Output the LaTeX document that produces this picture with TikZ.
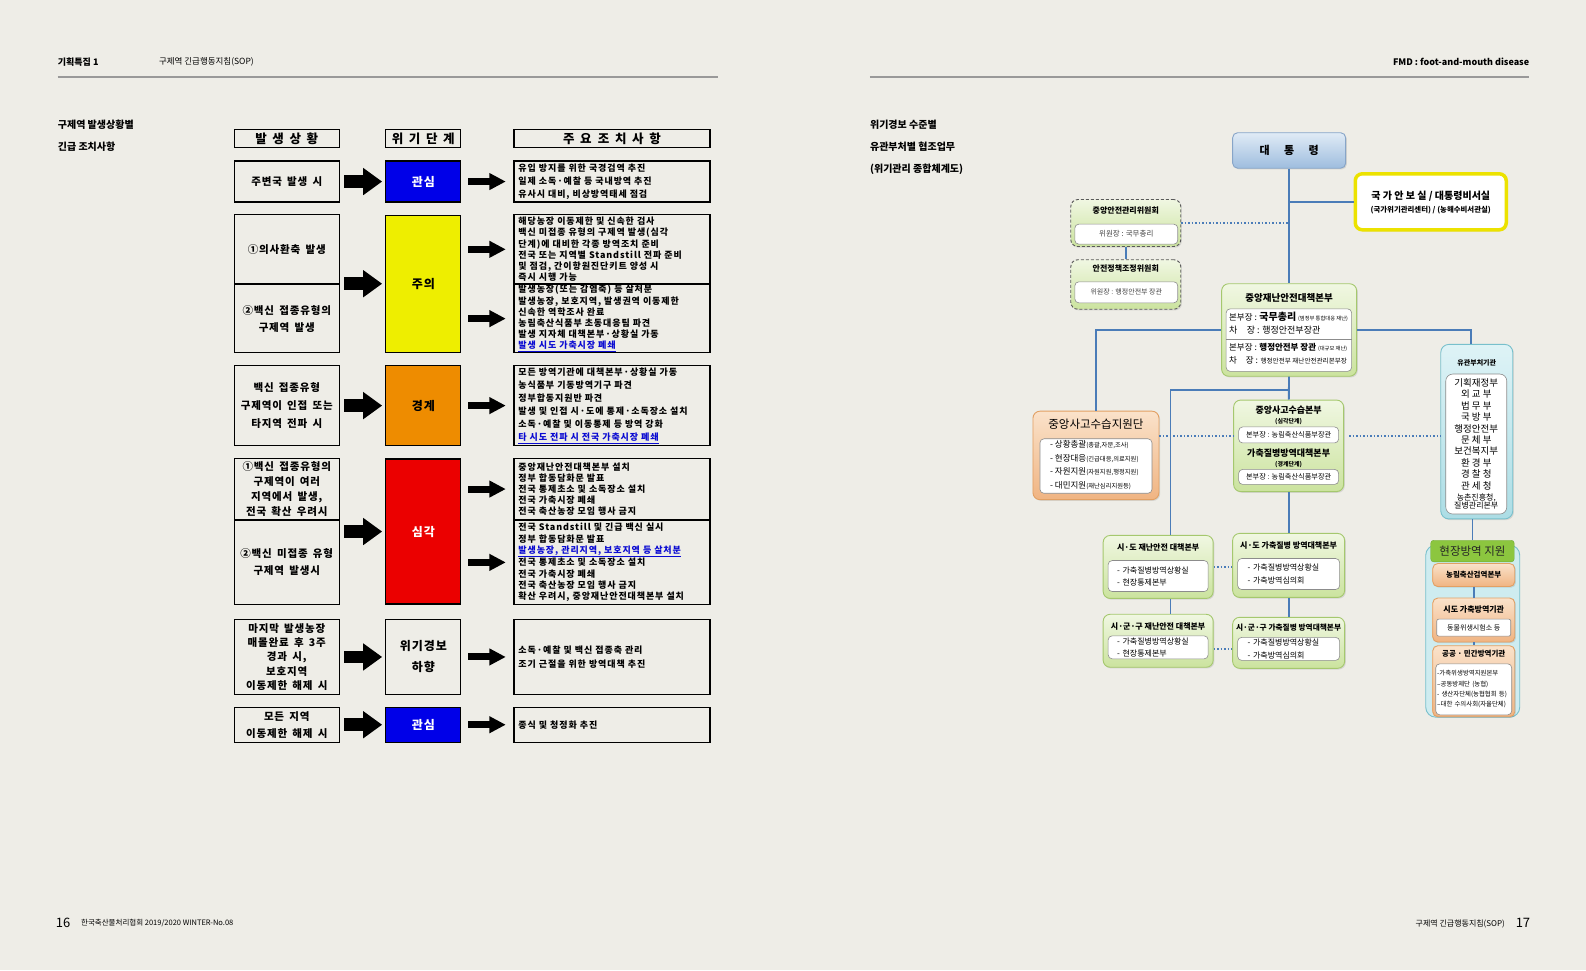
\documentclass[tikz,border=0pt]{standalone}
\usepackage{fontspec}
\setmainfont{Noto Sans CJK KR}
\newfontfamily\tblfont[LetterSpace=8,WordSpace=1.6]{Noto Sans CJK KR}
\newfontfamily\actfont[LetterSpace=10,WordSpace=2.5]{Noto Sans CJK KR}
\newfontfamily\headfont[LetterSpace=45]{Noto Sans CJK KR}
\usetikzlibrary{arrows.meta,shadows}

\definecolor{paper}{RGB}{238,237,231}
\definecolor{kblue}{RGB}{0,0,232}
\definecolor{kyellow}{RGB}{238,238,0}
\definecolor{korange}{RGB}{238,140,0}
\definecolor{kred}{RGB}{235,0,0}
\definecolor{klink}{RGB}{10,10,210}
\definecolor{lineblue}{RGB}{74,124,184}
\definecolor{gborder}{RGB}{165,200,110}
\definecolor{gtop}{RGB}{240,247,226}
\definecolor{gbot}{RGB}{203,227,158}
\definecolor{ptop}{RGB}{250,226,202}
\definecolor{pbot}{RGB}{240,180,130}
\definecolor{pborder}{RGB}{226,160,100}
\definecolor{ctop}{RGB}{222,243,246}
\definecolor{cbot}{RGB}{172,221,229}
\definecolor{cborder}{RGB}{120,192,204}

\newcommand{\fsz}[2]{\fontsize{#1}{#2}\selectfont}
\newcommand{\lnk}[1]{\textcolor{klink}{\underline{#1}}}

\begin{document}
\begin{tikzpicture}[x=1.0115pt,y=-1.0115pt,
  cell/.style={draw,line width=1.3pt,inner sep=0pt},
  lcell/.style={cell,minimum width=105pt,align=center,font=\tblfont\bfseries\fsz{10.5}{15}},
  scell/.style={cell,minimum width=75pt,align=center,text=white,font=\tblfont\bfseries\fsz{12}{21}},
  rcell/.style={cell,text width=187pt,inner xsep=4.5pt,align=left,font=\actfont\bfseries\fsz{9}{11.2}},
  hcell/.style={cell,minimum height=18pt,font=\headfont\bfseries\fsz{12.5}{14}},
  bigarrow/.style={-{Triangle[length=19pt,width=26pt]},line width=12.5pt,shorten <=4.5pt,shorten >=3pt},
  smallarrow/.style={-{Triangle[length=16.5pt,width=16pt]},line width=7pt,shorten <=7pt,shorten >=7.5pt},
  title/.style={anchor=west,inner sep=0pt,font=\bfseries\fsz{10}{12}},
  gbox/.style={draw=gborder,line width=0.9pt,rounded corners=7pt,top color=gtop,bottom color=gbot,
    drop shadow={opacity=0.22,shadow xshift=1.2pt,shadow yshift=-1.2pt}},
  dbox/.style={gbox,draw=black!65,densely dashed},
  pbox/.style={draw=pborder,line width=0.9pt,rounded corners=7pt,top color=ptop,bottom color=pbot,
    drop shadow={opacity=0.22,shadow xshift=1.2pt,shadow yshift=-1.2pt}},
  wbox/.style={draw=black!45,line width=0.6pt,rounded corners=4pt,fill=white,inner sep=0pt},
  ttl/.style={inner sep=0pt,font=\bfseries\fsz{8}{10}},
  txt/.style={inner sep=0pt,font=\fsz{8.5}{10}},
  cline/.style={draw=lineblue,line width=1.8pt},
  dline/.style={draw=lineblue,line width=1.5pt,dotted}]

  % page
  \path[use as bounding box,fill=paper] (0,0) rectangle (1568,959);
  \draw[gray!80,line width=2pt] (57,76) -- (710,76);
  \draw[gray!80,line width=2pt] (860,76) -- (1512,76);
  \node[title,font=\bfseries\fsz{9}{10}] (pg1) at (57,61) {기획특집 1};
  \node[title,font=\fsz{8.5}{10}] (pg2) at (157,61) {구제역 긴급행동지침(SOP)};
  \node[title,anchor=east,font=\bfseries\fsz{9}{10}] (pg3) at (1512,61) {FMD : foot-and-mouth disease};
  \node[title] (t1) at (57,123) {구제역 발생상황별};
  \node[title] (t2) at (57,145) {긴급 조치사항};
  \node[title] (t3) at (860,123) {위기경보 수준별};
  \node[title] (t4) at (860,145) {유관부처별 협조업무};
  \node[title] (t5) at (860,167) {(위기관리 종합체계도)};
  \node[title,font=\fsz{13}{14}] (f1) at (55,912) {16};
  \node[title,font=\fsz{7.5}{9}] (f2) at (80,913) {한국축산물처리협회 2019/2020 WINTER-No.08};
  \node[title,anchor=east,font=\fsz{13}{14}] (f4) at (1513,912) {17};
  \node[title,anchor=east,font=\fsz{8}{9}] (f3) at (1488,913) {구제역 긴급행동지침(SOP)};

  % table
  \node[hcell,minimum width=105pt] (h1) at (283.5,137) {발생상황};
  \node[hcell,minimum width=75pt] (h2) at (418.5,137) {위기단계};
  \node[hcell,minimum width=196pt] (h3) at (605,137) {주요\hspace{0.5em}조치사항};

  \node[lcell,minimum height=41pt] (l1) at (283.5,179.5) {주변국 발생 시};
  \node[scell,fill=kblue,minimum height=41pt] (s1) at (418.5,179.5) {관심};
  \node[rcell,minimum height=41pt,font=\actfont\bfseries\fsz{9}{13}] (r1) at (605,179.5)
    {유입 방지를 위한 국경검역 추진\\일제 소독·예찰 등 국내방역 추진\\유사시 대비, 비상방역태세 점검};

  \node[lcell,minimum height=69pt] (l2a) at (283.5,246.5) {①의사환축 발생};
  \node[lcell,minimum height=68pt,font=\tblfont\bfseries\fsz{10.5}{17}] (l2b) at (283.5,315) {②백신 접종유형의\\구제역 발생};
  \node[scell,fill=kyellow,text=black,minimum height=137pt] (s2) at (418.5,280.5) {주의};
  \node[rcell,minimum height=69pt] (r2a) at (605,246.5)
    {해당농장 이동제한 및 신속한 검사\\백신 미접종 유형의 구제역 발생(심각\\단계)에 대비한 각종 방역조치 준비\\전국 또는 지역별 Standstill 전파 준비\\및 점검, 간이항원진단키트 양성 시\\즉시 시행 가능};
  \node[rcell,minimum height=68pt] (r2b) at (605,315)
    {발생농장(또는 감염축) 등 살처분\\발생농장, 보호지역, 발생권역 이동제한\\신속한 역학조사 완료\\농림축산식품부 초동대응팀 파견\\발생 지자체 대책본부·상황실 가동\\\lnk{발생 시도 가축시장 폐쇄}};

  \node[lcell,minimum height=80pt,font=\tblfont\bfseries\fsz{10.5}{18}] (l3) at (283.5,401) {백신 접종유형\\구제역이 인접 또는\\타지역 전파 시};
  \node[scell,fill=korange,text=black,minimum height=80pt] (s3) at (418.5,401) {경계};
  \node[rcell,minimum height=80pt,font=\actfont\bfseries\fsz{9}{13}] (r3) at (605,401)
    {모든 방역기관에 대책본부·상황실 가동\\농식품부 기동방역기구 파견\\정부합동지원반 파견\\발생 및 인접 시·도에 통제·소독장소 설치\\소독·예찰 및 이동통제 등 방역 강화\\\lnk{타 시도 전파 시 전국 가축시장 폐쇄}};

  \node[lcell,minimum height=61pt] (l4a) at (283.5,483.5) {①백신 접종유형의\\구제역이 여러\\지역에서 발생,\\전국 확산 우려시};
  \node[lcell,minimum height=84pt,font=\tblfont\bfseries\fsz{10.5}{17}] (l4b) at (283.5,556) {②백신 미접종 유형\\구제역 발생시};
  \node[scell,fill=kred,minimum height=145pt] (s4) at (418.5,525.5) {심각};
  \node[rcell,minimum height=61pt] (r4a) at (605,483.5)
    {중앙재난안전대책본부 설치\\정부 합동담화문 발표\\전국 통제초소 및 소독장소 설치\\전국 가축시장 폐쇄\\전국 축산농장 모임 행사 금지};
  \node[rcell,minimum height=84pt] (r4b) at (605,556)
    {전국 Standstill 및 긴급 백신 실시\\정부 합동담화문 발표\\\lnk{발생농장, 관리지역, 보호지역 등 살처분}\\전국 통제초소 및 소독장소 설치\\전국 가축시장 폐쇄\\전국 축산농장 모임 행사 금지\\확산 우려시, 중앙재난안전대책본부 설치};

  \node[lcell,minimum height=75pt,font=\tblfont\bfseries\fsz{10.5}{14.3}] (l5) at (283.5,649.5) {마지막 발생농장\\매몰완료 후 3주\\경과 시,\\보호지역\\이동제한 해제 시};
  \node[scell,text=black,minimum height=75pt] (s5) at (418.5,649.5) {위기경보\\하향};
  \node[rcell,minimum height=75pt,font=\actfont\bfseries\fsz{9}{14}] (r5) at (605,649.5)
    {소독·예찰 및 백신 접종축 관리\\조기 근절을 위한 방역대책 추진};

  \node[lcell,minimum height=35pt,font=\tblfont\bfseries\fsz{10.5}{17}] (l6) at (283.5,716.5) {모든 지역\\이동제한 해제 시};
  \node[scell,fill=kblue,minimum height=35pt] (s6) at (418.5,716.5) {관심};
  \node[rcell,minimum height=35pt] (r6) at (605,716.5) {종식 및 청정화 추진};

  \draw[bigarrow] (l1) -- (s1);
  \draw[bigarrow] (s2.west -| l2a.east) -- (s2.west);
  \draw[bigarrow] (l3) -- (s3);
  \draw[bigarrow] (s4.west -| l4a.east) -- (s4.west);
  \draw[bigarrow] (l5) -- (s5);
  \draw[bigarrow] (l6) -- (s6);
  \draw[smallarrow] (s1) -- (r1);
  \draw[smallarrow] (r2a.west -| s2.east) -- (r2a.west);
  \draw[smallarrow] (r2b.west -| s2.east) -- (r2b.west);
  \draw[smallarrow] (s3) -- (r3);
  \draw[smallarrow] (r4a.west -| s4.east) -- (r4a.west);
  \draw[smallarrow] (r4b.west -| s4.east) -- (r4b.west);
  \draw[smallarrow] (s5) -- (r5);
  \draw[smallarrow] (s6) -- (r6);

  % chart
  \node[draw={rgb,255:red,135;green,165;blue,200},line width=0.9pt,rounded corners=5pt,
    top color={rgb,255:red,224;green,235;blue,246},bottom color={rgb,255:red,158;green,189;blue,222},
    drop shadow={opacity=0.22,shadow xshift=1.2pt,shadow yshift=-1.2pt},
    minimum width=113pt,minimum height=35.5pt,font=\bfseries\fsz{11}{12}] (pres) at (1274.5,148.75)
    {대\hspace{1.3em}통\hspace{1.3em}령};
  \node[draw={rgb,255:red,236;green,226;blue,0},line width=3.5pt,rounded corners=7pt,fill=white,
    drop shadow={opacity=0.25,shadow xshift=1pt,shadow yshift=-1.5pt},
    minimum width=151pt,minimum height=56pt] (nsc) at (1414.5,199.5) {};
  \node[ttl,font=\bfseries\fsz{10}{12}] (nsct) at (1414.5,194) {국 가 안 보 실 / 대통령비서실};
  \node[ttl,font=\bfseries\fsz{7.4}{8}] (nscs) at (1414.5,208) {(국가위기관리센터) / (농해수비서관실)};

  \node[dbox,minimum width=110pt,minimum height=47pt] (cscm) at (1113,220.5) {};
  \node[ttl] (cscmt) at (1113,208) {중앙안전관리위원회};
  \node[wbox,minimum width=103pt,minimum height=20pt,font=\fsz{7.5}{9},text=black!75] (cscmi) at (1113.5,231.5) {위원장 : 국무총리};
  \node[dbox,minimum width=110pt,minimum height=49.5pt] (spcc) at (1113,281.25) {};
  \node[ttl] (spcct) at (1113,265) {안전정책조정위원회};
  \node[wbox,minimum width=103pt,minimum height=21pt,font=\fsz{7}{9},text=black!75] (spcci) at (1113.5,289) {위원장 : 행정안전부 장관};

  \node[gbox,minimum width=135pt,minimum height=92.5pt] (cdsc) at (1274.5,326.25) {};
  \node[ttl,font=\bfseries\fsz{9.5}{11}] (cdsct) at (1274.5,295) {중앙재난안전대책본부};
  \node[wbox,minimum width=125.5pt,minimum height=62.5pt] (cdsci) at (1274.25,336.25) {};
  \coordinate (cdv) at (1274,335.6);
  \draw[black!45,line width=0.6pt] (cdsci.west |- cdv) -- (cdsci.east |- cdv);
  \node[txt,anchor=west] (cd1) at (1215,313) {본부장 : {\bfseries\fsz{10}{11}국무총리} {\fsz{5.3}{6}(범정부 통합대응 재난)}};
  \node[txt,anchor=west,font=\fsz{9}{10}] (cd2) at (1215,326.4) {차\hspace{1.05em}장 : 행정안전부장관};
  \node[txt,anchor=west] (cd3) at (1215,343.5) {본부장 : {\bfseries 행정안전부 장관} {\fsz{5.3}{6}(대규모 재난)}};
  \node[txt,anchor=west] (cd4) at (1215,356) {차\hspace{1.05em}장 : {\fsz{6.6}{7}행정안전부 재난안전관리본부장}};

  \node[pbox,minimum width=126pt,minimum height=88.5pt] (csrs) at (1083.5,450.25) {};
  \node[ttl,font=\fsz{11.5}{13}] (csrst) at (1083.5,419.5) {중앙사고수습지원단};
  \node[wbox,minimum width=112pt,minimum height=54.5pt] (csrsi) at (1083.5,460.75) {};
  \node[txt,anchor=west] (cs1) at (1038,440) {- 상황총괄{\fsz{6.3}{7}(총괄,자문,조사)}};
  \node[txt,anchor=west] (cs2) at (1038,453.3) {- 현장대응{\fsz{6.3}{7}(긴급대응,의료지원)}};
  \node[txt,anchor=west] (cs3) at (1038,466.6) {- 자원지원{\fsz{6.3}{7}(자원지원,행정지원)}};
  \node[txt,anchor=west] (cs4) at (1038,479.7) {- 대민지원{\fsz{6.3}{7}(재난심리지원등)}};

  \node[gbox,minimum width=110pt,minimum height=91.5pt] (ccmh) at (1274,440.75) {};
  \node[ttl,font=\bfseries\fsz{9}{10}] (ccmht) at (1274,405.5) {중앙사고수습본부};
  \node[ttl,font=\bfseries\fsz{6}{7}] (ccmhs) at (1274,417) {(심각단계)};
  \node[wbox,minimum width=100pt,minimum height=16pt,font=\fsz{7.2}{8}] (ccmhi) at (1274,430) {본부장 : 농림축산식품부장관};
  \node[ttl,font=\bfseries\fsz{9}{10}] (ccmht2) at (1274,448) {가축질병방역대책본부};
  \node[ttl,font=\bfseries\fsz{6}{7}] (ccmhs2) at (1274,459) {(경계단계)};
  \node[wbox,minimum width=100pt,minimum height=15pt,font=\fsz{7.2}{8}] (ccmhi2) at (1274,471.5) {본부장 : 농림축산식품부장관};

  \node[gbox,minimum width=110pt,minimum height=63pt] (ldsc) at (1145,560.5) {};
  \node[ttl] (ldsct) at (1145,541.5) {시·도 재난안전 대책본부};
  \node[wbox,minimum height=31pt,text width=82pt,inner xsep=9pt,align=left,font=\fsz{8}{12}] (ldsci) at (1145,569.5) {- 가축질병방역상황실\\- 현장통제본부};
  \node[gbox,minimum width=112pt,minimum height=64pt] (lcsh) at (1274,559) {};
  \node[ttl] (lcsht) at (1274,539.5) {시·도 가축질병 방역대책본부};
  \node[wbox,minimum height=31pt,text width=82pt,inner xsep=10pt,align=left,font=\fsz{8}{12.4}] (lcshi) at (1274,567.5) {- 가축질병방역상황실\\- 가축방역심의회};
  \node[gbox,minimum width=110pt,minimum height=53pt] (ldsg) at (1145,633.5) {};
  \node[ttl] (ldsgt) at (1145,619) {시·군·구 재난안전 대책본부};
  \node[wbox,minimum height=23pt,text width=82pt,inner xsep=9pt,align=left,font=\fsz{8}{12}] (ldsgi) at (1145,640) {- 가축질병방역상황실\\- 현장통제본부};
  \node[gbox,minimum width=112pt,minimum height=51pt] (lcsg) at (1274,635.5) {};
  \node[ttl,font=\bfseries\fsz{7.7}{9}] (lcsgt) at (1274,620) {시·군·구 가축질병 방역대책본부};
  \node[wbox,minimum height=23pt,text width=82pt,inner xsep=10pt,align=left,font=\fsz{8}{12.4}] (lcsgi) at (1274,641.5) {- 가축질병방역상황실\\- 가축방역심의회};

  \node[draw=cborder,line width=0.9pt,rounded corners=8pt,top color=ctop,bottom color=cbot,
    drop shadow={opacity=0.22,shadow xshift=1.2pt,shadow yshift=-1.2pt},
    minimum width=72pt,minimum height=174.5pt] (rel) at (1460,426.75) {};
  \node[ttl,font=\bfseries\fsz{7}{8}] (relt) at (1460,359) {유관부처기관};
  \node[wbox,rounded corners=7pt,minimum width=61pt,minimum height=140pt,align=center,font=\fsz{9.5}{11.4}] (reli) at (1459.5,439)
    {기획재정부\\외 교 부\\법 무 부\\국 방 부\\행정안전부\\문 체 부\\보건복지부\\환 경 부\\경 찰 청\\관 세 청\\{\fsz{8}{9}농촌진흥청,}\\[-3pt]{\fsz{8}{9}질병관리본부}};

  \node[draw=cborder,line width=0.9pt,rounded corners=10pt,fill={rgb,255:red,206;green,236;blue,240},
    minimum width=94pt,minimum height=172pt] (freg) at (1456,624) {};
  \node[draw={rgb,255:red,110;green,170;blue,50},rounded corners=3pt,fill={rgb,255:red,140;green,198;blue,63},
    minimum width=83.5pt,minimum height=21.6pt,inner sep=0pt,font=\fsz{11.5}{12},text=black!85] (field) at (1455.75,544.8) {현장방역 지원};
  \node[pbox,rounded corners=5pt,minimum width=82pt,minimum height=23pt,inner sep=0pt,font=\bfseries\fsz{7.5}{9}] (qia) at (1457,568.5) {농림축산검역본부};
  \node[pbox,rounded corners=5pt,minimum width=82pt,minimum height=44pt] (vet) at (1457,613) {};
  \node[ttl] (vett) at (1457,603) {시도 가축방역기관};
  \node[wbox,rounded corners=2pt,minimum width=74pt,minimum height=17pt,font=\fsz{7}{8}] (veti) at (1457,620.5) {동물위생시험소 등};
  \node[pbox,rounded corners=5pt,minimum width=82pt,minimum height=71pt] (pub) at (1457,673.5) {};
  \node[ttl,font=\bfseries\fsz{7.5}{9}] (pubt) at (1457,646.5) {공공 · 민간방역기관};
  \node[wbox,minimum height=51pt,text width=73pt,inner xsep=1.5pt,align=left,font=\fsz{6.4}{10.4}] (pubi) at (1457,681.5)
    {-가축위생방역지원본부\\--공동방제단 (농협)\\- 생산자단체(농협협회 등)\\--대한 수의사회(자율단체)};

  % connectors
  \coordinate (jn) at (1274.5,385.8);
  \coordinate (dl) at (1180,431);
  \draw[cline] (pres) -- (cdsc);
  \draw[cline] (pres.south |- nsc.west) -- (nsc.west);
  \draw[dline] (cscm.east) -- (cscm.east -| pres.south);
  \draw[cline] (cscm) -- (spcc);
  \draw[cline] (cdsc.west) -| (csrs.north);
  \draw[cline] (cdsc.east) -| ([xshift=-5.4pt]rel.north);
  \draw[cline] (cdsc) -- (ccmh);
  \draw[cline] (jn) -| ([xshift=12.3pt]ldsc.north);
  \draw[cline] ([xshift=12.3pt]ldsc.south) -- ([xshift=12.3pt]ldsg.north);
  \draw[cline] (ccmh) -- (lcsh);
  \draw[cline] (lcsh) -- (lcsg);
  \draw[dline] (csrs.east |- dl) -- (ccmh.west |- dl);
  \draw[dline] ([xshift=5pt]ccmh.east |- dl) -- (rel.west |- dl);
  \draw[dline] (ldsc.east) -- (ldsc.east -| lcsh.west);
  \draw[dline] (ldsg.east |- lcsgi.center) -- (lcsg.west |- lcsgi.center);
  \draw[cline] (field.north |- rel.south) -- (field.north);
  \draw[cline] (qia) -- (vet);
  \draw[cline] (vet) -- (pub);
\end{tikzpicture}
\end{document}
